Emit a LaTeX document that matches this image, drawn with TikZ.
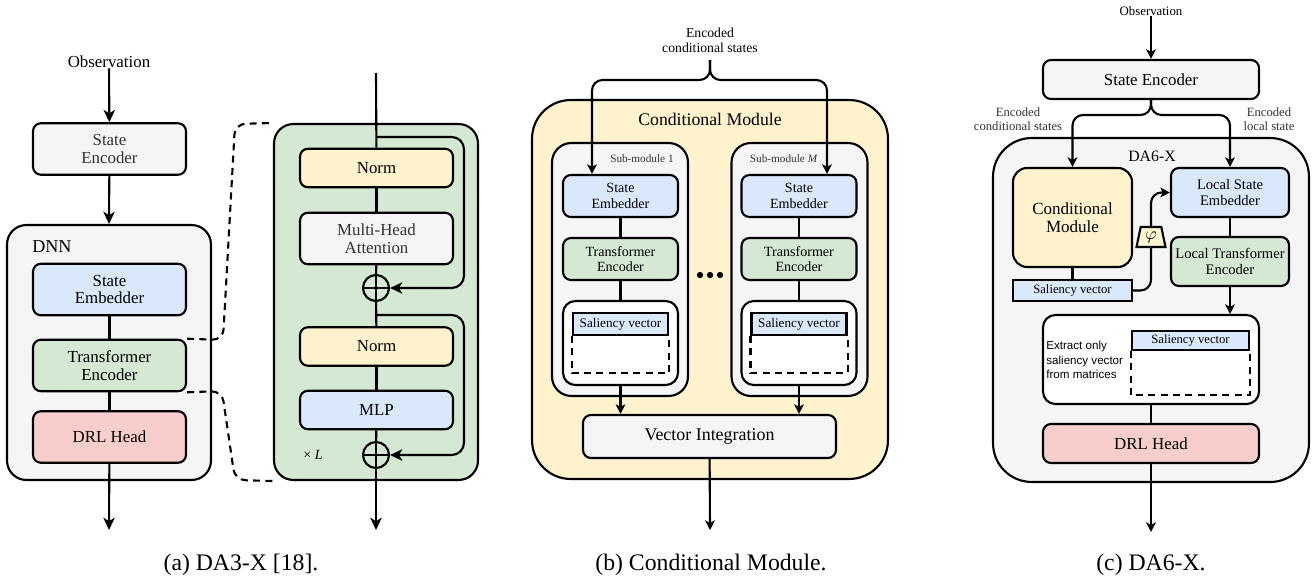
\documentclass[tikz,border=0pt]{standalone}
\usepackage{fontspec}
\setmainfont{Liberation Serif}
\newfontfamily\sansfont{Liberation Sans}
\usetikzlibrary{shapes.geometric,arrows.meta}
\pgfdeclarelayer{boxlayer}
\pgfdeclarelayer{edgelayer}
\pgfdeclarelayer{nodelayer}
\pgfsetlayers{boxlayer,edgelayer,nodelayer,main}
\definecolor{greyfill}{HTML}{F5F5F5}
\definecolor{bluefill}{HTML}{DAE8FC}
\definecolor{greenfill}{HTML}{D5E8D4}
\definecolor{redfill}{HTML}{F8CECC}
\definecolor{yellowfill}{HTML}{FFF2CC}
\definecolor{textgrey}{HTML}{333333}
\newcommand{\fsz}[2]{\fontsize{#1}{#2}\selectfont}
\tikzset{font=\fsz{9.6pt}{10pt}}
\tikzstyle{none}=[inner sep=0pt]
\tikzstyle{box}=[draw, line width=1.2pt, rounded corners=4.5pt, inner sep=1pt, align=center]
\tikzstyle{grey box}=[box, fill=greyfill, text=textgrey]
\tikzstyle{blue box}=[box, fill=bluefill]
\tikzstyle{green box}=[box, fill=greenfill]
\tikzstyle{red box}=[box, fill=redfill]
\tikzstyle{yellow box}=[box, fill=yellowfill]
\tikzstyle{white box}=[box, fill=white, rounded corners=7pt]
\tikzstyle{group}=[draw, line width=1.2pt, rounded corners=11pt]
\tikzstyle{big group}=[group, rounded corners=22pt]
\tikzstyle{saliency}=[draw, line width=1.2pt, fill=bluefill, inner sep=0pt]
\tikzstyle{plus}=[circle, draw, line width=1.2pt, fill=greenfill, minimum size=0.52cm, inner sep=0pt,
  path picture={\draw[line width=1.2pt] (path picture bounding box.north) -- (path picture bounding box.south)
    (path picture bounding box.west) -- (path picture bounding box.east);}]
\tikzstyle{phi}=[trapezium, draw, line width=1.2pt, fill=yellowfill, trapezium angle=78,
  trapezium stretches=true, minimum width=0.58cm, minimum height=0.4cm, inner sep=0pt]
\tikzstyle{flow}=[line width=1.2pt]
\tikzstyle{arrow}=[flow, -{Stealth[length=5.5pt, width=5.5pt, inset=1.5pt]}]
\tikzstyle{big arrow}=[flow, -{Stealth[length=7pt, width=6.5pt, inset=2pt]}]
\tikzstyle{open box}=[flow, dash pattern=on 4pt off 3pt]
\tikzstyle{dnn item}=[minimum width=3.06cm, minimum height=1.03cm]
\tikzstyle{layer item}=[minimum width=3.06cm, minimum height=0.77cm]
\tikzstyle{sub item}=[minimum width=2.3cm, minimum height=0.84cm, font=\fsz{8pt}{8.7pt}]
\tikzstyle{wide item}=[minimum width=4.32cm, minimum height=0.78cm, font=\fsz{9.6pt}{10pt}]
\tikzstyle{local item}=[minimum width=2.36cm, minimum height=0.98cm, font=\fsz{8.3pt}{9pt}]
\tikzstyle{caption}=[inner sep=0pt, font=\fsz{13.5pt}{15pt}]

\begin{document}
\begin{tikzpicture}[x=0.02cm, y=-0.02cm]
	\useasboundingbox (0,0) rectangle (1315,578);
	\begin{pgfonlayer}{boxlayer}
		\node [style=group, fill=greyfill, minimum width=4.08cm, minimum height=5.1cm] (7) at (109,352.5) {};
		\node [style=group, fill=greenfill, minimum width=4.08cm, minimum height=7.12cm] (8) at (376,302) {};
		\node [style=big group, fill=yellowfill, minimum width=7.12cm, minimum height=7.58cm] (31) at (710,289.5) {};
		\node [style=group, fill=greyfill, minimum width=2.72cm, minimum height=5.06cm] (33) at (620,269.5) {};
		\node [style=group, fill=greyfill, minimum width=2.72cm, minimum height=5.06cm] (35) at (799.5,269.5) {};
		\node [style=big group, fill=greyfill, minimum width=6.32cm, minimum height=6.88cm] (52) at (1151,310) {};
	\end{pgfonlayer}
	\begin{pgfonlayer}{nodelayer}
		% (a) DA3-X
		\node [style=none] (0) at (109,62) {Observation};
		\node [style=grey box, dnn item] (1) at (109.5,149) {State\\Encoder};
		\node [style=none, anchor=west, font=\fsz{10.3pt}{11pt}] (2) at (32,247) {DNN};
		\node [style=blue box, dnn item] (3) at (109.5,289.5) {State\\Embedder};
		\node [style=green box, dnn item] (4) at (109.5,365.5) {Transformer\\Encoder};
		\node [style=red box, dnn item] (5) at (109.5,437) {DRL Head};
		\coordinate (6) at (109,530);
		\coordinate (9) at (376,73);
		\node [style=yellow box, layer item] (10) at (376.5,168) {Norm};
		\node [style=grey box, dnn item] (11) at (376.5,238.5) {Multi-Head\\Attention};
		\node [style=plus] (12) at (376,288) {};
		\node [style=yellow box, layer item] (13) at (376.5,346.5) {Norm};
		\node [style=blue box, layer item] (14) at (376.5,410) {MLP};
		\node [style=plus] (15) at (376,455) {};
		\coordinate (16) at (376,530);
		\node [style=none, font=\fsz{8pt}{8pt}] (17) at (313,455) {× \textit{L}};
		\coordinate (18) at (376,137);
		\coordinate (19) at (464,137);
		\coordinate (20) at (376,315);
		\coordinate (21) at (464,315);
		\coordinate (22) at (223,340);
		\coordinate (23) at (235,124);
		\coordinate (24) at (222,391);
		\coordinate (25) at (235,480);
		% (b) Conditional Module
		\node [style=none, align=center, font=\fsz{7.8pt}{8.6pt}] (26) at (710,40) {Encoded\\conditional states};
		\coordinate (27) at (710,60);
		\coordinate (28) at (710,80);
		\coordinate (29) at (592,80);
		\coordinate (30) at (827,80);
		\node [style=none, font=\fsz{10.1pt}{11pt}] (32) at (710,119) {Conditional Module};
		\node [style=none, anchor=east, text=textgrey, font=\fsz{6.4pt}{7pt}] (34) at (674,159) {Sub-module 1};
		\node [style=none, anchor=east, text=textgrey, font=\fsz{6.4pt}{7pt}] (36) at (818,159) {Sub-module \textit{M}};
		\node [style=blue box, sub item] (37) at (620.5,196) {State\\Embedder};
		\node [style=green box, sub item] (38) at (620.5,259) {Transformer\\Encoder};
		\node [style=white box, minimum width=2.3cm, minimum height=1.68cm] (39) at (620.5,343) {};
		\node [style=saliency, minimum width=1.9cm, minimum height=0.44cm, font=\fsz{7.5pt}{8pt}] (40) at (620.5,324) {Saliency vector};
		\node [style=blue box, sub item] (41) at (799,196) {State\\Embedder};
		\node [style=green box, sub item] (42) at (799,259) {Transformer\\Encoder};
		\node [style=white box, minimum width=2.3cm, minimum height=1.68cm] (43) at (799,343) {};
		\node [style=saliency, minimum width=1.9cm, minimum height=0.44cm, font=\fsz{7.5pt}{8pt}] (44) at (799,324) {Saliency vector};
		\node [style=grey box, minimum width=5.06cm, minimum height=0.86cm, text=black, font=\fsz{10.2pt}{11pt}] (45) at (709.5,436.5) {Vector Integration};
		\coordinate (46) at (710,530);
		\foreach \x in {700,710,720}
			\fill (\x,275) circle (1.8pt);
		\draw [style=open box] (40.south west) -- ++(0,37) -| (40.south east);
		\draw [style=open box] (44.south west) -- ++(0,37) -| (44.south east);
		% (c) DA6-X
		\node [style=none, font=\fsz{7.3pt}{8pt}] (47) at (1151,11) {Observation};
		\node [style=grey box, wide item, text=black] (48) at (1151,79.5) {State Encoder};
		\coordinate (49) at (1151,115);
		\node [style=none, align=center, text=textgrey, font=\fsz{7.2pt}{8pt}] (50) at (1018,119) {Encoded\\conditional states};
		\node [style=none, align=center, text=textgrey, font=\fsz{7.2pt}{8pt}] (51) at (1269,119) {Encoded\\local state};
		\node [style=none, font=\fsz{9pt}{10pt}] (53) at (1152,156) {DA6-X};
		\node [style=yellow box, rounded corners=8pt, minimum width=2.38cm, minimum height=1.98cm, font=\fsz{9.7pt}{10.4pt}] (54) at (1072.5,217.5) {Conditional\\Module};
		\node [style=blue box, local item] (55) at (1230,192.5) {Local State\\Embedder};
		\node [style=green box, local item] (56) at (1230,261.5) {Local Transformer\\Encoder};
		\node [style=phi] (57) at (1151,237) {$\varphi$};
		\node [style=saliency, minimum width=2.38cm, minimum height=0.42cm, font=\fsz{7.2pt}{8pt}] (58) at (1072.5,290.5) {Saliency vector};
		\node [style=white box, minimum width=4.32cm, minimum height=1.78cm] (59) at (1151,359.5) {};
		\node [style=saliency, minimum width=2.34cm, minimum height=0.38cm, font=\fsz{7.2pt}{8pt}] (60) at (1190.5,340.5) {Saliency vector};
		\node [style=none, anchor=west, align=left, font=\sansfont\fsz{6.6pt}{8.2pt}] (61) at (1046,360) {Extract only\\saliency vector\\from matrices};
		\node [style=red box, wide item] (62) at (1151,443.5) {DRL Head};
		\coordinate (63) at (1151,532);
		\draw [style=open box] (60.south west) -- ++(0,44) -| (60.south east);
		% captions
		\node [style=caption] (64) at (241,565) {(a) DA3-X [18].};
		\node [style=caption] (65) at (711,565) {(b) Conditional Module.};
		\node [style=caption] (66) at (1151,565) {(c) DA6-X.};
	\end{pgfonlayer}
	\begin{pgfonlayer}{edgelayer}
		\draw [style=big arrow] (0) -- (1);
		\draw [style=big arrow] (1) -- (7.north);
		\draw [style=flow] (3) -- (4);
		\draw [style=flow] (4) -- (5);
		\draw [style=big arrow] (5) -- (6);
		\draw [style=flow] (9) -- (10);
		\draw [style=flow] (10) -- (11);
		\draw [style=flow] (11) -- (12);
		\draw [style=flow] (12) -- (13);
		\draw [style=flow] (13) -- (14);
		\draw [style=flow] (14) -- (15);
		\draw [style=big arrow] (15) -- (16);
		\draw [style=big arrow, rounded corners=7pt] (18) -- (19) |- (12.east);
		\draw [style=big arrow, rounded corners=7pt] (20) -- (21) |- (15.east);
		\draw [style=open box, rounded corners=6pt] (4.north east) -- (22) -- (23) -- (8.north west);
		\draw [style=open box, rounded corners=6pt] (4.south east) -- (24) -- (25) -- (8.south west);
		\draw [style=arrow, rounded corners=6pt] (27) -- (28) -- (29) -- (29 |- 37.north);
		\draw [style=arrow, rounded corners=6pt] (27) -- (28) -- (30) -- (30 |- 41.north);
		\draw [style=flow] (37) -- (38);
		\draw [style=flow] (38) -- (39);
		\draw [style=flow] (41) -- (42);
		\draw [style=flow] (42) -- (43);
		\draw [style=arrow] (39.south) -- (39.south |- 45.north);
		\draw [style=arrow] (43.south) -- (43.south |- 45.north);
		\draw [style=arrow] (45) -- (46);
		\draw [style=arrow] (47) -- (48);
		\draw [style=arrow, rounded corners=6pt] (48.south) -- (49) -| (54.north);
		\draw [style=arrow, rounded corners=6pt] (48.south) -- (49) -| (55.north);
		\draw [style=flow] (54) -- (58);
		\draw [style=arrow, rounded corners=6pt] (58.east) -| (57.center) |- (55.west);
		\draw [style=flow] (55) -- (56);
		\draw [style=arrow] (56.south) -- (56.south |- 59.north);
		\draw [style=flow] (59) -- (62);
		\draw [style=arrow] (62) -- (63);
	\end{pgfonlayer}
\end{tikzpicture}
\end{document}
